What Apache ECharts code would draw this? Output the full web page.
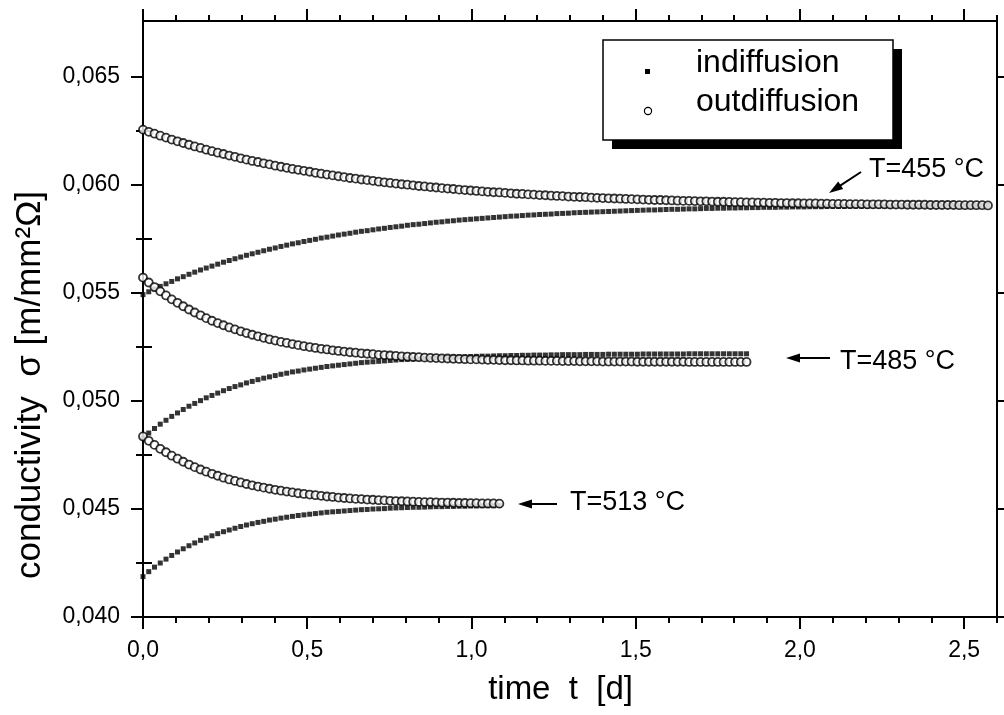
<!DOCTYPE html>
<html>
<head>
<meta charset="utf-8">
<title>conductivity vs time</title>
<script src="https://cdn.jsdelivr.net/npm/echarts@6.0.0/dist/echarts.min.js"></script>
<style>
  html, body { margin: 0; padding: 0; background: #fff; }
  #chart { width: 1004px; height: 715px; }
</style>
</head>
<body>
<div id="chart"></div>
<script>
// time axis [d], shared by all runs (each run uses the first n points)
const timeDays = [
  0, 0.0175, 0.035, 0.0525, 0.07, 0.0875, 0.105, 0.1225, 0.14, 0.1575,
  0.175, 0.1925, 0.21, 0.2275, 0.245, 0.2625, 0.28, 0.2975, 0.315, 0.3325,
  0.35, 0.3675, 0.385, 0.4025, 0.42, 0.4375, 0.455, 0.4725, 0.49, 0.5075,
  0.525, 0.5425, 0.56, 0.5775, 0.595, 0.6125, 0.63, 0.6475, 0.665, 0.6825,
  0.7, 0.7175, 0.735, 0.7525, 0.77, 0.7875, 0.805, 0.8225, 0.84, 0.8575,
  0.875, 0.8925, 0.91, 0.9275, 0.945, 0.9625, 0.98, 0.9975, 1.015, 1.0325,
  1.05, 1.0675, 1.085, 1.1025, 1.12, 1.1375, 1.155, 1.1725, 1.19, 1.2075,
  1.225, 1.2425, 1.26, 1.2775, 1.295, 1.3125, 1.33, 1.3475, 1.365, 1.3825,
  1.4, 1.4175, 1.435, 1.4525, 1.47, 1.4875, 1.505, 1.5225, 1.54, 1.5575,
  1.575, 1.5925, 1.61, 1.6275, 1.645, 1.6625, 1.68, 1.6975, 1.715, 1.7325,
  1.75, 1.7675, 1.785, 1.8025, 1.82, 1.8375, 1.855, 1.8725, 1.89, 1.9075,
  1.925, 1.9425, 1.96, 1.9775, 1.995, 2.0125, 2.03, 2.0475, 2.065, 2.0825,
  2.1, 2.1175, 2.135, 2.1525, 2.17, 2.1875, 2.205, 2.2225, 2.24, 2.2575,
  2.275, 2.2925, 2.31, 2.3275, 2.345, 2.3625, 2.38, 2.3975, 2.415, 2.4325,
  2.45, 2.4675, 2.485, 2.5025, 2.52, 2.5375, 2.555, 2.5725
]

// T=455 °C
const out455 = [
  0.06257, 0.06247, 0.06238, 0.06229, 0.06220, 0.06211, 0.06203, 0.06195, 0.06187, 0.06179,
  0.06172, 0.06164, 0.06157, 0.06150, 0.06144, 0.06137, 0.06131, 0.06124, 0.06118, 0.06112,
  0.06107, 0.06101, 0.06096, 0.06090, 0.06085, 0.06080, 0.06075, 0.06071, 0.06066, 0.06062,
  0.06057, 0.06053, 0.06049, 0.06045, 0.06041, 0.06037, 0.06033, 0.06030, 0.06026, 0.06023,
  0.06020, 0.06016, 0.06013, 0.06010, 0.06007, 0.06004, 0.06002, 0.05999, 0.05996, 0.05994,
  0.05991, 0.05989, 0.05986, 0.05984, 0.05982, 0.05979, 0.05977, 0.05975, 0.05973, 0.05971,
  0.05969, 0.05967, 0.05966, 0.05964, 0.05962, 0.05960, 0.05959, 0.05957, 0.05956, 0.05954,
  0.05953, 0.05951, 0.05950, 0.05949, 0.05947, 0.05946, 0.05945, 0.05944, 0.05942, 0.05941,
  0.05940, 0.05939, 0.05938, 0.05937, 0.05936, 0.05935, 0.05934, 0.05933, 0.05932, 0.05931,
  0.05931, 0.05930, 0.05929, 0.05928, 0.05927, 0.05927, 0.05926, 0.05925, 0.05925, 0.05924,
  0.05923, 0.05923, 0.05922, 0.05921, 0.05921, 0.05920, 0.05920, 0.05919, 0.05919, 0.05918,
  0.05918, 0.05917, 0.05917, 0.05916, 0.05916, 0.05915, 0.05915, 0.05915, 0.05914, 0.05914,
  0.05913, 0.05913, 0.05913, 0.05912, 0.05912, 0.05912, 0.05911, 0.05911, 0.05911, 0.05911,
  0.05910, 0.05910, 0.05910, 0.05909, 0.05909, 0.05909, 0.05909, 0.05908, 0.05908, 0.05908,
  0.05908, 0.05908, 0.05907, 0.05907, 0.05907, 0.05907, 0.05907, 0.05906
]
const in455 = [
  0.05493, 0.05506, 0.05519, 0.05531, 0.05543, 0.05554, 0.05566, 0.05576, 0.05587, 0.05597,
  0.05607, 0.05616, 0.05625, 0.05634, 0.05643, 0.05651, 0.05659, 0.05667, 0.05675, 0.05682,
  0.05689, 0.05696, 0.05703, 0.05709, 0.05716, 0.05722, 0.05728, 0.05733, 0.05739, 0.05744,
  0.05749, 0.05755, 0.05759, 0.05764, 0.05769, 0.05773, 0.05777, 0.05782, 0.05786, 0.05789,
  0.05793, 0.05797, 0.05800, 0.05804, 0.05807, 0.05810, 0.05814, 0.05817, 0.05819, 0.05822,
  0.05825, 0.05828, 0.05830, 0.05833, 0.05835, 0.05838, 0.05840, 0.05842, 0.05844, 0.05846,
  0.05848, 0.05850, 0.05852, 0.05854, 0.05856, 0.05857, 0.05859, 0.05861, 0.05862, 0.05864,
  0.05865, 0.05866, 0.05868, 0.05869, 0.05870, 0.05872, 0.05873, 0.05874, 0.05875, 0.05876,
  0.05877, 0.05878, 0.05879, 0.05880, 0.05881, 0.05882, 0.05883, 0.05884, 0.05885, 0.05885,
  0.05886, 0.05887, 0.05888, 0.05888, 0.05889, 0.05890, 0.05890, 0.05891, 0.05892, 0.05892,
  0.05893, 0.05893, 0.05894, 0.05894, 0.05895, 0.05895, 0.05896, 0.05896, 0.05897, 0.05897,
  0.05897, 0.05898, 0.05898, 0.05899, 0.05899, 0.05899, 0.05900, 0.05900, 0.05900, 0.05901,
  0.05901, 0.05901, 0.05901, 0.05902, 0.05902, 0.05902, 0.05902, 0.05903, 0.05903, 0.05903,
  0.05903, 0.05904, 0.05904, 0.05904, 0.05904, 0.05904, 0.05905, 0.05905, 0.05905, 0.05905,
  0.05905, 0.05905, 0.05905, 0.05906, 0.05906, 0.05906, 0.05906, 0.05906
]

// T=485 °C
const out485 = [
  0.05572, 0.05549, 0.05528, 0.05508, 0.05489, 0.05471, 0.05455, 0.05439, 0.05424, 0.05410,
  0.05397, 0.05384, 0.05372, 0.05361, 0.05351, 0.05341, 0.05332, 0.05323, 0.05315, 0.05307,
  0.05300, 0.05293, 0.05286, 0.05280, 0.05274, 0.05269, 0.05264, 0.05259, 0.05254, 0.05250,
  0.05246, 0.05242, 0.05239, 0.05235, 0.05232, 0.05229, 0.05226, 0.05224, 0.05221, 0.05219,
  0.05217, 0.05214, 0.05213, 0.05211, 0.05209, 0.05207, 0.05206, 0.05204, 0.05203, 0.05201,
  0.05200, 0.05199, 0.05198, 0.05197, 0.05196, 0.05195, 0.05194, 0.05193, 0.05193, 0.05192,
  0.05191, 0.05191, 0.05190, 0.05189, 0.05189, 0.05188, 0.05188, 0.05187, 0.05187, 0.05187,
  0.05186, 0.05186, 0.05186, 0.05185, 0.05185, 0.05185, 0.05184, 0.05184, 0.05184, 0.05184,
  0.05183, 0.05183, 0.05183, 0.05183, 0.05183, 0.05183, 0.05182, 0.05182, 0.05182, 0.05182,
  0.05182, 0.05182, 0.05182, 0.05182, 0.05182, 0.05181, 0.05181, 0.05181, 0.05181, 0.05181,
  0.05181, 0.05181, 0.05181, 0.05181, 0.05181, 0.05181
]
const in485 = [
  0.04830, 0.04852, 0.04873, 0.04893, 0.04911, 0.04929, 0.04945, 0.04961, 0.04976, 0.04989,
  0.05002, 0.05015, 0.05026, 0.05037, 0.05048, 0.05058, 0.05067, 0.05075, 0.05084, 0.05091,
  0.05099, 0.05106, 0.05112, 0.05118, 0.05124, 0.05129, 0.05135, 0.05139, 0.05144, 0.05148,
  0.05152, 0.05156, 0.05160, 0.05163, 0.05166, 0.05169, 0.05172, 0.05175, 0.05178, 0.05180,
  0.05182, 0.05184, 0.05186, 0.05188, 0.05190, 0.05192, 0.05193, 0.05195, 0.05196, 0.05198,
  0.05199, 0.05200, 0.05201, 0.05202, 0.05203, 0.05204, 0.05205, 0.05206, 0.05207, 0.05208,
  0.05208, 0.05209, 0.05210, 0.05210, 0.05211, 0.05211, 0.05212, 0.05212, 0.05213, 0.05213,
  0.05213, 0.05214, 0.05214, 0.05215, 0.05215, 0.05215, 0.05215, 0.05216, 0.05216, 0.05216,
  0.05216, 0.05217, 0.05217, 0.05217, 0.05217, 0.05217, 0.05217, 0.05218, 0.05218, 0.05218,
  0.05218, 0.05218, 0.05218, 0.05218, 0.05218, 0.05219, 0.05219, 0.05219, 0.05219, 0.05219,
  0.05219, 0.05219, 0.05219, 0.05219, 0.05219, 0.05219
]

// T=513 °C
const out513 = [
  0.04836, 0.04816, 0.04797, 0.04779, 0.04763, 0.04747, 0.04733, 0.04719, 0.04706, 0.04694,
  0.04683, 0.04673, 0.04663, 0.04654, 0.04645, 0.04637, 0.04630, 0.04623, 0.04616, 0.04610,
  0.04604, 0.04599, 0.04594, 0.04589, 0.04585, 0.04581, 0.04577, 0.04573, 0.04570, 0.04567,
  0.04564, 0.04561, 0.04558, 0.04556, 0.04553, 0.04551, 0.04549, 0.04547, 0.04546, 0.04544,
  0.04543, 0.04541, 0.04540, 0.04538, 0.04537, 0.04536, 0.04535, 0.04534, 0.04533, 0.04532,
  0.04532, 0.04531, 0.04530, 0.04530, 0.04529, 0.04528, 0.04528, 0.04527, 0.04527, 0.04526,
  0.04526, 0.04526, 0.04525
]
const in513 = [
  0.04187, 0.04210, 0.04231, 0.04250, 0.04268, 0.04285, 0.04301, 0.04316, 0.04330, 0.04343,
  0.04355, 0.04366, 0.04376, 0.04386, 0.04395, 0.04403, 0.04411, 0.04419, 0.04426, 0.04432,
  0.04438, 0.04443, 0.04449, 0.04453, 0.04458, 0.04462, 0.04466, 0.04470, 0.04473, 0.04476,
  0.04479, 0.04482, 0.04485, 0.04487, 0.04489, 0.04491, 0.04493, 0.04495, 0.04497, 0.04498,
  0.04500, 0.04501, 0.04502, 0.04504, 0.04505, 0.04506, 0.04507, 0.04508, 0.04508, 0.04509,
  0.04510, 0.04511, 0.04511, 0.04512, 0.04512, 0.04513, 0.04513, 0.04514, 0.04514, 0.04515,
  0.04515, 0.04515, 0.04516
]

// ticks
const xMajorTicks = [0, 0.5, 1.0, 1.5, 2.0, 2.5]
const yMajorTicks = [0.040, 0.045, 0.050, 0.055, 0.060, 0.065]
const yMinorTicks = [0.0425, 0.0475, 0.0525, 0.0575, 0.0625]
const X_MIN = 0, X_MAX = 2.6
const Y_MIN = 0.040, Y_MAX = 0.0676

const FONT = '"Liberation Sans", Arial, Helvetica, sans-serif'
const pairs = vals => vals.map((v, i) => [timeDays[i], v])
const commaFmt = digits => v => v.toFixed(digits).replace('.', ',')

// 坐标轴：主刻度 + 次刻度（四边）
function makeAxis(pos, min, max, opt) {
  return Object.assign({
    type: 'value',
    position: pos,
    min: min,
    max: max,
    scale: true,
    splitLine: { show: false },
    axisLine: { show: true, onZero: false, lineStyle: { color: '#000', width: 2 } },
    axisTick: { show: true, inside: false, length: 12, lineStyle: { color: '#000', width: 2 } },
    axisLabel: { show: false }
  }, opt)
}
const tick = (len, values) => ({ show: true, length: len, customValues: values, lineStyle: { color: '#000', width: 2 } })

const xAxis = [
  makeAxis('bottom', X_MIN, X_MAX, {
    axisTick: tick(12, xMajorTicks),
    axisLabel: {
      show: true, customValues: xMajorTicks, margin: 22, color: '#000',
      fontSize: 23, fontFamily: FONT, formatter: commaFmt(1)
    }
  }),
  makeAxis('bottom', X_MIN, X_MAX, {
    interval: 0.1,
    axisLine: { show: false },
    axisTick: { show: true, length: 6, lineStyle: { color: '#000', width: 2 } }
  }),
  makeAxis('top', X_MIN, X_MAX, { axisTick: tick(12, xMajorTicks) }),
  makeAxis('top', X_MIN, X_MAX, {
    interval: 0.1,
    axisLine: { show: false },
    axisTick: { show: true, length: 6, lineStyle: { color: '#000', width: 2 } }
  })
]

const yAxis = [
  makeAxis('left', Y_MIN, Y_MAX, {
    axisTick: tick(12, yMajorTicks),
    axisLabel: {
      show: true, customValues: yMajorTicks, margin: 23, color: '#000',
      fontSize: 23, fontFamily: FONT, formatter: commaFmt(3)
    }
  }),
  makeAxis('left', Y_MIN, Y_MAX, { axisLine: { show: false }, axisTick: tick(7, yMinorTicks) }),
  makeAxis('right', Y_MIN, Y_MAX, { axisTick: tick(10, yMajorTicks) }),
  makeAxis('right', Y_MIN, Y_MAX, { axisLine: { show: false }, axisTick: tick(9, yMinorTicks) })
]

const squareStyle = { type: 'scatter', symbol: 'rect', symbolSize: 5, itemStyle: { color: '#000' }, z: 2 }
const circleStyle = {
  type: 'scatter', symbol: 'circle', symbolSize: 8,
  itemStyle: { color: '#fff', borderColor: '#000', borderWidth: 1.8 }, z: 3
}

const series = [
  Object.assign({ name: 'indiffusion 455', data: pairs(in455) }, squareStyle),
  Object.assign({ name: 'indiffusion 485', data: pairs(in485) }, squareStyle),
  Object.assign({ name: 'indiffusion 513', data: pairs(in513) }, squareStyle),
  Object.assign({ name: 'outdiffusion 455', data: pairs(out455) }, circleStyle),
  Object.assign({ name: 'outdiffusion 485', data: pairs(out485) }, circleStyle),
  Object.assign({ name: 'outdiffusion 513', data: pairs(out513) }, circleStyle)
]

// 图例框、箭头与标注
function arrow(x1, y1, x2, y2) {
  const dx = x2 - x1, dy = y2 - y1
  const len = Math.sqrt(dx * dx + dy * dy)
  const ux = dx / len, uy = dy / len
  const hl = 14, hw = 4.5
  const bx = x2 - ux * hl, by = y2 - uy * hl
  return [
    { type: 'line', shape: { x1: x1, y1: y1, x2: bx + ux * 2, y2: by + uy * 2 }, style: { stroke: '#000', lineWidth: 2 } },
    { type: 'polygon', shape: { points: [[x2, y2], [bx - uy * hw, by + ux * hw], [bx + uy * hw, by - ux * hw]] }, style: { fill: '#000' } }
  ]
}
const label = (x, y, text, size) => ({
  type: 'text', x: x, y: y,
  style: { text: text, font: size + 'px ' + FONT, fill: '#000', textAlign: 'left', textVerticalAlign: 'middle' }
})

const graphic = [
  { type: 'rect', shape: { x: 612, y: 49, width: 290, height: 100 }, style: { fill: '#000' } },
  { type: 'rect', shape: { x: 603, y: 40, width: 290, height: 100 }, style: { fill: '#fff', stroke: '#000', lineWidth: 1.5 } },
  { type: 'rect', shape: { x: 645, y: 69, width: 5, height: 5 }, style: { fill: '#000' } },
  { type: 'circle', shape: { cx: 648, cy: 111, r: 3.6 }, style: { fill: '#fff', stroke: '#000', lineWidth: 1.2 } },
  label(696, 63, 'indiffusion', 32),
  label(696, 102, 'outdiffusion', 32),
  label(869, 170, 'T=455 °C', 27),
  label(840, 362, 'T=485 °C', 27),
  label(570, 503, 'T=513 °C', 27),
  ...arrow(861, 172, 829, 193),
  ...arrow(830, 358, 786, 358),
  ...arrow(557, 504, 518, 504),
  {
    type: 'text', x: 30, y: 385, rotation: Math.PI / 2,
    style: { text: 'conductivity  σ [m/mm²Ω]', font: '35px ' + FONT, fill: '#000', textAlign: 'center', textVerticalAlign: 'middle' }
  },
  {
    type: 'text', x: 633, y: 690,
    style: { text: 'time  t  [d]', font: '33px ' + FONT, fill: '#000', textAlign: 'right', textVerticalAlign: 'middle' }
  }
].map(g => Object.assign({ z: 100 }, g))

const chart = echarts.init(document.getElementById('chart'), null, { renderer: 'canvas' })
chart.setOption({
  animation: false,
  backgroundColor: '#fff',
  grid: { left: 143, right: 7, top: 21, bottom: 98, containLabel: false },
  xAxis: xAxis,
  yAxis: yAxis,
  series: series,
  graphic: graphic
})
</script>
</body>
</html>
